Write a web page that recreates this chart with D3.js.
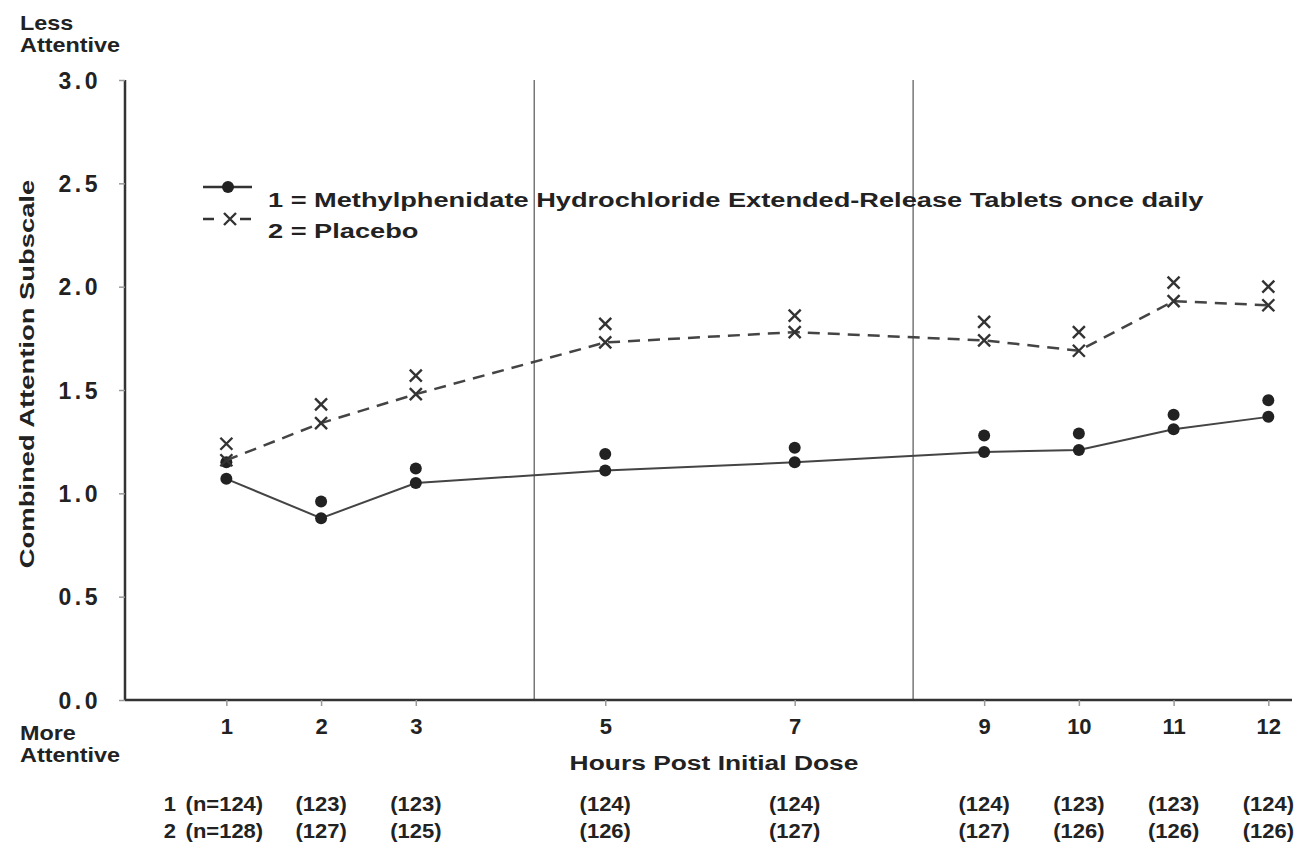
<!DOCTYPE html>
<html>
<head>
<meta charset="utf-8">
<script src="https://cdn.jsdelivr.net/npm/d3@7/dist/d3.min.js"></script>
<style>
  html, body { margin: 0; padding: 0; background: #fff; }
  svg { display: block; font-family: "Liberation Sans", Arial, sans-serif; font-weight: bold; }
</style>
</head>
<body>
<svg id="chart" width="1309" height="851"></svg>
<script>
const hours = [1, 2, 3, 5, 7, 9, 10, 11, 12];
const mphLine = [1.07, 0.88, 1.05, 1.11, 1.15, 1.20, 1.21, 1.31, 1.37];
const mphMarker = [1.15, 0.96, 1.12, 1.19, 1.22, 1.28, 1.29, 1.38, 1.45];
const placeboLine = [1.16, 1.34, 1.48, 1.73, 1.78, 1.74, 1.69, 1.93, 1.91];
const placeboMarker = [1.24, 1.43, 1.57, 1.82, 1.86, 1.83, 1.78, 2.02, 2.00];
const yTicks = [0, 0.5, 1, 1.5, 2, 2.5, 3];
const dividers = [4.25, 8.25];
const nMph = ['(n=124)', '(123)', '(123)', '(124)', '(124)', '(124)', '(123)', '(123)', '(124)'];
const nPlacebo = ['(n=128)', '(127)', '(125)', '(126)', '(127)', '(127)', '(126)', '(126)', '(126)'];
const legendLabels = ['1 = Methylphenidate Hydrochloride Extended-Release Tablets once daily', '2 = Placebo'];

const ink = '#222';
const svg = d3.select('#chart');

const x = d3.scaleLinear().domain([-0.07, 12.25]).range([125, 1292]);
const y = d3.scaleLinear().domain([0, 3]).range([700, 80]);

// stretched text, the scan is wider than a normal bold sans
function label(parent, px, py, str, size, sx, anchor, rot) {
  return parent.append('text')
    .attr('transform', `translate(${px},${py})${rot ? ` rotate(${rot})` : ''} scale(${sx},1)`)
    .attr('text-anchor', anchor || 'start')
    .attr('fill', ink)
    .style('font-size', `${size}px`)
    .text(str);
}

// divider lines
svg.append('g')
  .selectAll('line')
  .data(dividers)
  .join('line')
  .attr('x1', (d) => x(d)).attr('x2', (d) => x(d))
  .attr('y1', y(3)).attr('y2', y(0))
  .attr('stroke', '#555').attr('stroke-width', 1.2);

// axes
const yAxis = svg.append('g')
  .attr('transform', `translate(${x.range()[0]},0)`)
  .call(d3.axisLeft(y).tickValues(yTicks).tickFormat(d3.format('.1f')).tickSize(6).tickPadding(18));
const xAxis = svg.append('g')
  .attr('transform', `translate(0,${y(0)})`)
  .call(d3.axisBottom(x).tickValues(hours).tickFormat(d3.format('d')).tickSize(6).tickPadding(12));

[yAxis, xAxis].forEach((g) => {
  g.select('.domain').attr('stroke', '#333').attr('stroke-width', 2.5);
  g.selectAll('.tick line').attr('stroke', '#999').attr('stroke-width', 1.5);
  g.selectAll('.tick text')
    .attr('fill', ink)
    .style('font-family', '"Liberation Sans", Arial, sans-serif')
    .style('font-weight', 'bold')
    .style('font-size', '22px');
});
yAxis.selectAll('.tick text').attr('letter-spacing', 3.5).attr('dy', '0.36em').style('font-size', '23px');
xAxis.select('.domain').attr('d', `M${x.range()[0]},0H${x.range()[1]}`);
yAxis.select('.domain').attr('d', `M0,${y(3)}V${y(0)}`);

// series
const series = [
  { line: mphLine, marker: mphMarker, dash: null, shape: 'dot', width: 2 },
  { line: placeboLine, marker: placeboMarker, dash: '12,8', shape: 'cross', width: 2.5 },
];

const lineGen = d3.line().x((d) => x(d[0])).y((d) => y(d[1]));

function drawMarker(g, cx, cy, shape) {
  if (shape === 'dot') {
    g.append('circle').attr('cx', cx).attr('cy', cy).attr('r', 6).attr('fill', ink);
  } else {
    const s = 6;
    g.append('path')
      .attr('d', `M${cx - s},${cy - s}L${cx + s},${cy + s}M${cx - s},${cy + s}L${cx + s},${cy - s}`)
      .attr('stroke', '#333').attr('stroke-width', 2.4).attr('fill', 'none');
  }
}

series.forEach((s) => {
  const pts = hours.map((h, i) => [h, s.line[i]]);
  svg.append('path')
    .attr('d', lineGen(pts))
    .attr('fill', 'none')
    .attr('stroke', '#444')
    .attr('stroke-width', s.width)
    .attr('stroke-dasharray', s.dash);
  const g = svg.append('g');
  hours.forEach((h, i) => {
    drawMarker(g, x(h), y(s.line[i]), s.shape);
    drawMarker(g, x(h), y(s.marker[i]), s.shape);
  });
});

// legend
const legend = svg.append('g');
legend.append('line').attr('x1', 203).attr('x2', 252).attr('y1', 187).attr('y2', 187)
  .attr('stroke', '#333').attr('stroke-width', 2.5);
drawMarker(legend, 228, 187, 'dot');
legend.append('line').attr('x1', 203).attr('x2', 258).attr('y1', 219).attr('y2', 219)
  .attr('stroke', '#333').attr('stroke-width', 2.5).attr('stroke-dasharray', '11,26');
drawMarker(legend, 230, 219, 'cross');
legendLabels.forEach((d, i) => label(legend, 268, 207 + i * 31, d, 20, 1.36));

// axis titles
label(svg, 34, 374, 'Combined Attention Subscale', 20, 1.37, 'middle', -90);
label(svg, 714, 770, 'Hours Post Initial Dose', 20, 1.32, 'middle');

const corner = [
  { lines: ['Less', 'Attentive'], y: 30 },
  { lines: ['More', 'Attentive'], y: 740 },
];
corner.forEach((c) => {
  c.lines.forEach((d, i) => label(svg, 20, c.y + i * 22, d, 20, 1.17));
});

// n counts
const nRows = [
  { label: '1', counts: nMph, y: 811 },
  { label: '2', counts: nPlacebo, y: 838 },
];
nRows.forEach((r) => {
  const g = svg.append('g');
  label(g, 176, r.y, r.label, 20, 1.1, 'end');
  r.counts.forEach((d, i) => label(g, x(hours[i]) + (i === 0 ? -2 : 0), r.y, d, 20, 1.1, 'middle'));
});
</script>
</body>
</html>
